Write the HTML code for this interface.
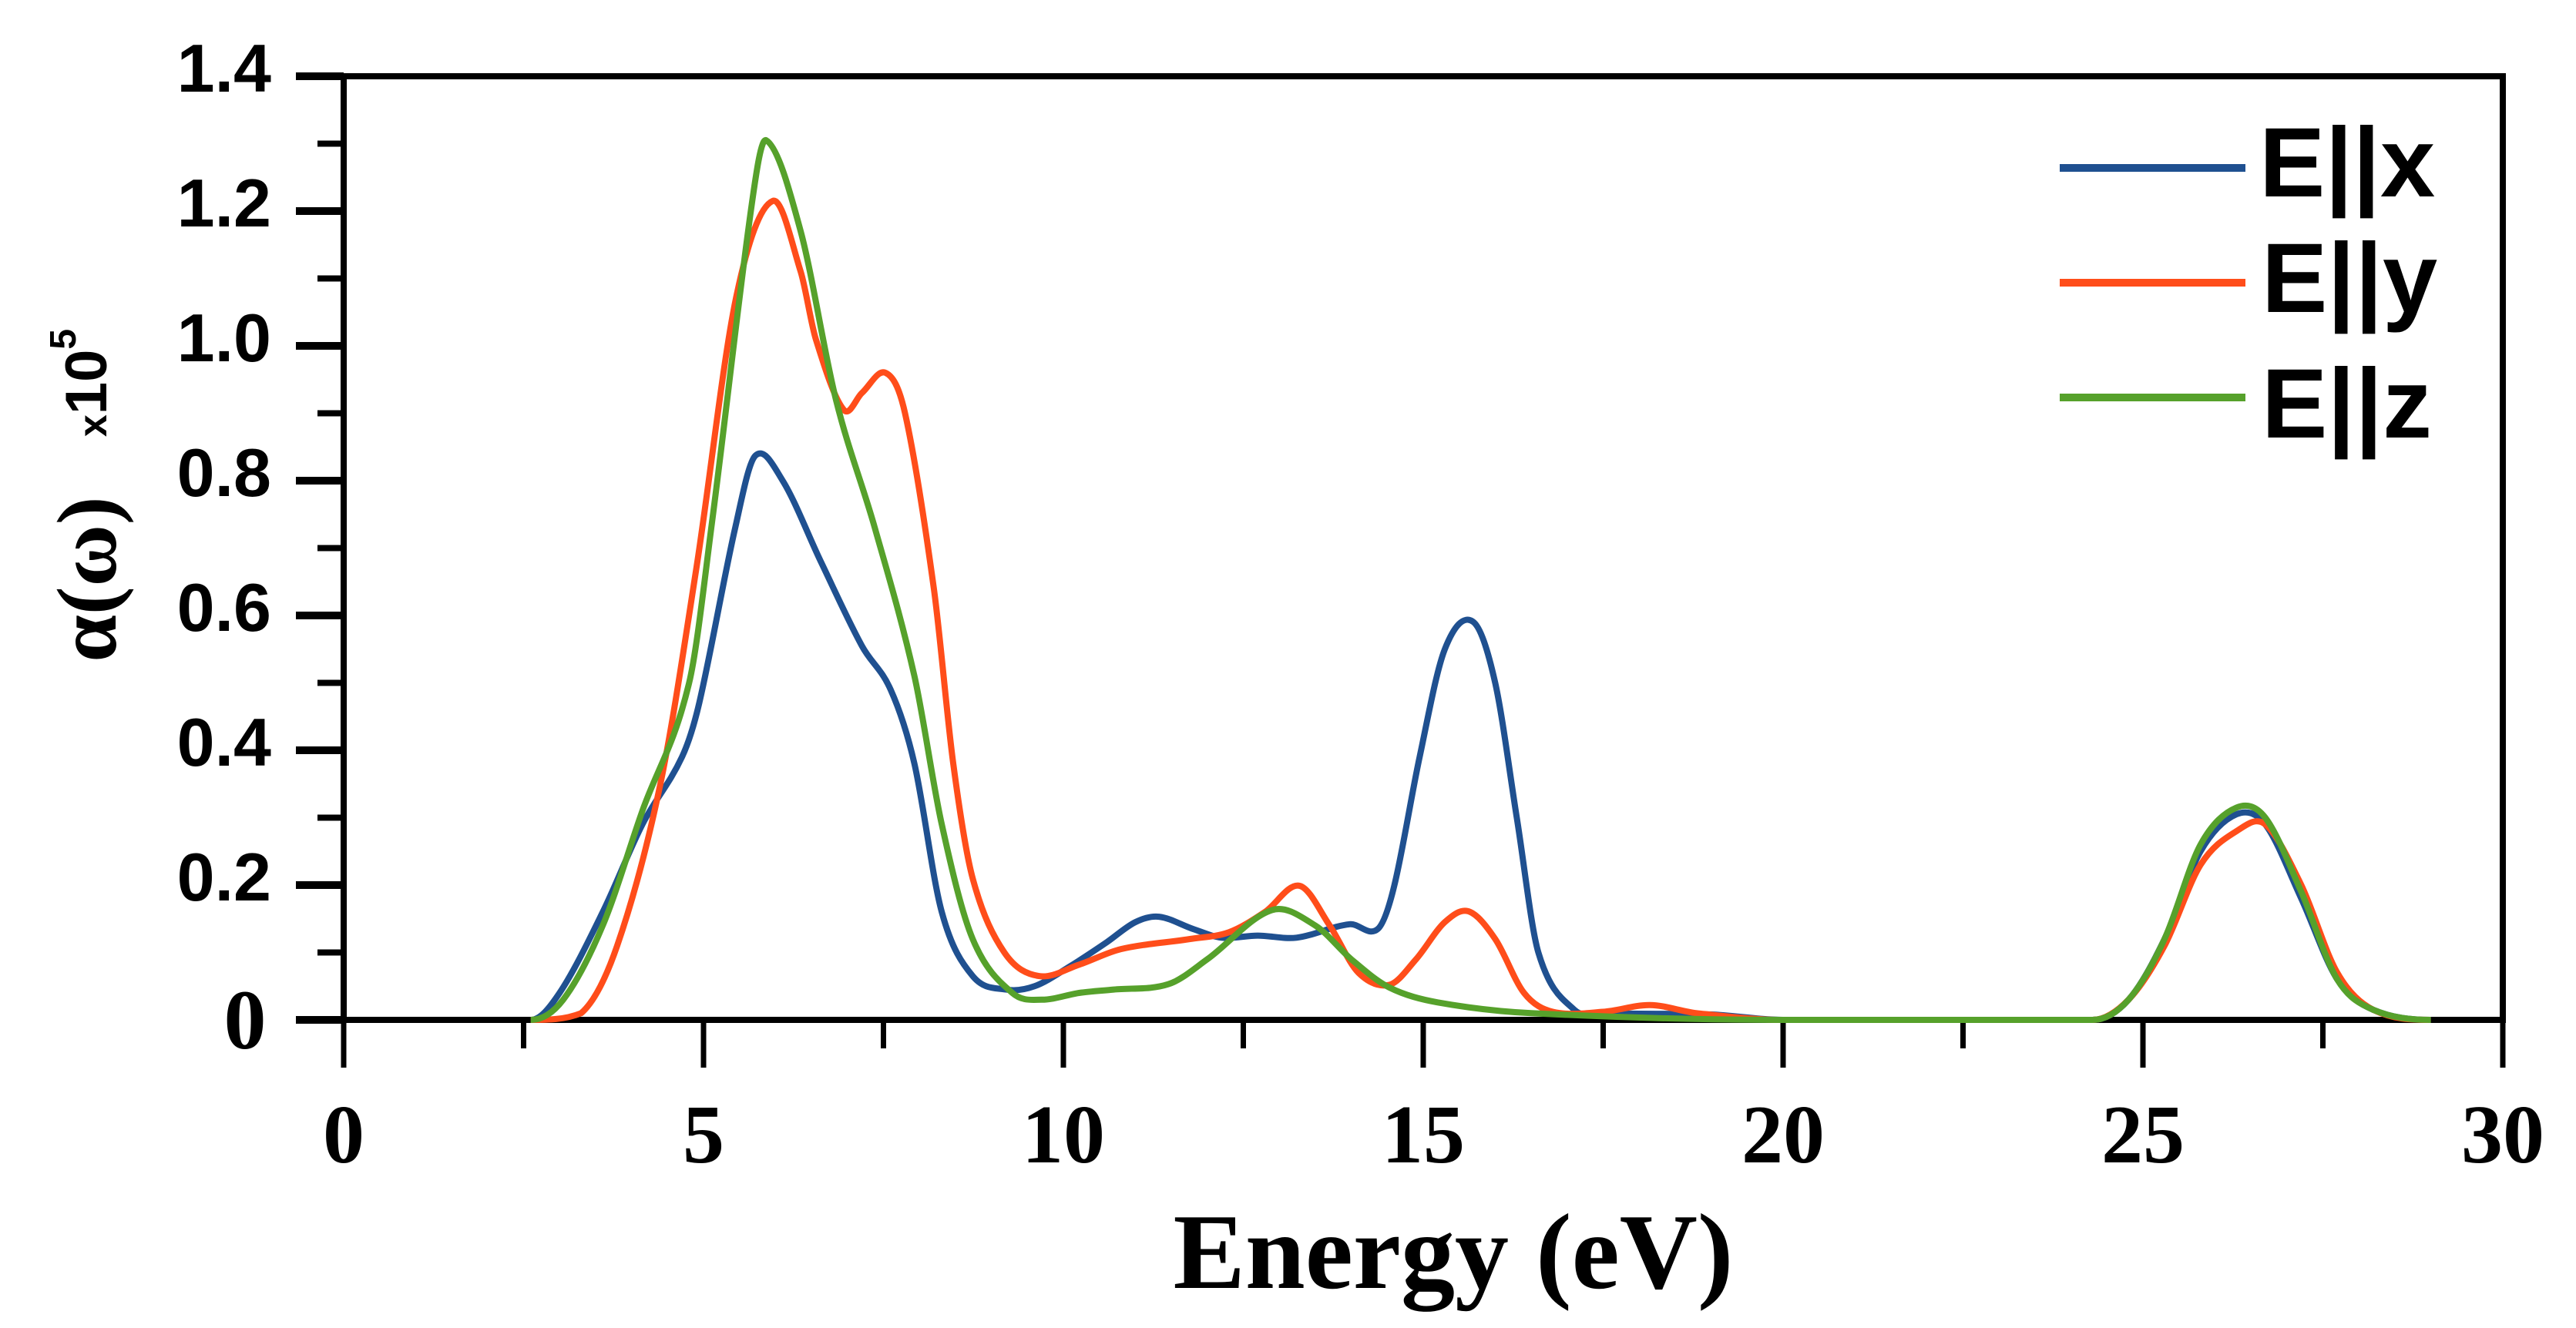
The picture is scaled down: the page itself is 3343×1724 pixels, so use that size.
<!DOCTYPE html>
<html><head><meta charset="utf-8"><style>
html,body{margin:0;padding:0;background:#fff;}
svg{display:block;}
</style></head><body>
<svg id="chart" width="3343" height="1724" viewBox="0 0 3343 1724" xmlns="http://www.w3.org/2000/svg">
<g id="axes"></g>
<g id="series"></g>
<g id="legend">
  <line x1="2673" y1="218" x2="2914" y2="218" stroke="#1f5090" stroke-width="10"/>
  <text x="2932" y="255" font-family="Liberation Sans, sans-serif" font-weight="bold" font-size="128">E||x</text>
  <line x1="2673" y1="367" x2="2914" y2="367" stroke="#ff4d1a" stroke-width="10"/>
  <text x="2935" y="405" font-family="Liberation Sans, sans-serif" font-weight="bold" font-size="128">E||y</text>
  <line x1="2673" y1="516" x2="2914" y2="516" stroke="#56a12b" stroke-width="10"/>
  <text x="2935" y="568" font-family="Liberation Sans, sans-serif" font-weight="bold" font-size="128">E||z</text>
</g>
<text x="1886" y="1672" text-anchor="middle" font-family="Liberation Serif, serif" font-weight="bold" font-size="140">Energy (eV)</text>
<g transform="translate(150,752) rotate(-90)">
  <text x="0" y="0" text-anchor="middle" font-family="Liberation Serif, serif" font-weight="bold" font-size="110">α(ω)</text>
  <text x="255" y="-12" text-anchor="middle" font-family="Liberation Sans, sans-serif" font-weight="bold" font-size="76"><tspan font-size="52">x</tspan>10<tspan dy="-40" font-size="48">5</tspan></text>
</g>
</svg>
<script>
const xTicks = [0,5,10,15,20,25,30];
const yTicks = [0,0.2,0.4,0.6,0.8,1.0,1.2,1.4];
const yTickLabels = ["0","0.2","0.4","0.6","0.8","1.0","1.2","1.4"];
const seriesNames = ["E||x","E||y","E||z"];

const blueE = [2.6,3.0,3.6,4.15,4.7,4.94,5.44,5.72,6.1,6.63,7.2,7.6,7.93,8.31,8.74,9.2,9.6,10.1,10.6,11.0,11.33,11.8,12.2,12.7,13.24,13.98,14.37,14.6,14.95,15.3,15.69,16.0,16.3,16.6,17.1,17.5,19.0,20.0,24.3,24.8,25.3,25.8,26.3,26.7,27.2,27.7,28.2,29.0];
const blueV = [0,0.04,0.16,0.29,0.39,0.47,0.73,0.837,0.8,0.68,0.555,0.49,0.38,0.16,0.065,0.045,0.05,0.08,0.115,0.145,0.153,0.135,0.122,0.125,0.122,0.142,0.135,0.2,0.39,0.55,0.591,0.5,0.3,0.1,0.015,0.01,0.008,0,0,0.03,0.12,0.25,0.305,0.29,0.18,0.06,0.015,0];

const redE = [2.6,3.3,3.8,4.4,4.9,5.45,5.96,6.35,6.56,6.95,7.2,7.53,7.8,8.2,8.47,8.74,9.18,9.66,10.22,10.8,11.76,12.3,12.8,13.28,13.7,14.1,14.53,14.9,15.3,15.63,16.0,16.4,16.8,17.5,18.15,18.8,20.0,24.3,24.8,25.3,25.8,26.3,26.7,27.2,27.7,28.2,29.0];
const redV = [0,0.01,0.11,0.35,0.67,1.07,1.215,1.11,1.01,0.905,0.93,0.96,0.9,0.64,0.38,0.21,0.1,0.065,0.082,0.105,0.12,0.13,0.16,0.199,0.14,0.07,0.052,0.09,0.145,0.161,0.12,0.04,0.012,0.012,0.022,0.01,0,0,0.03,0.11,0.23,0.28,0.29,0.2,0.07,0.015,0];

const greenE = [2.6,3.05,3.6,4.15,4.8,5.12,5.67,5.87,6.35,6.84,7.38,7.93,8.31,8.74,9.29,9.7,10.22,10.7,11.46,12.0,12.9,13.5,14.0,14.53,15.2,16.5,20.0,24.3,24.8,25.3,25.8,26.3,26.7,27.2,27.7,28.2,29.0];
const greenV = [0,0.03,0.14,0.31,0.5,0.74,1.21,1.305,1.17,0.92,0.73,0.51,0.29,0.12,0.04,0.03,0.04,0.045,0.053,0.09,0.163,0.14,0.09,0.048,0.026,0.01,0,0,0.03,0.12,0.26,0.315,0.3,0.19,0.06,0.015,0];

const X0=446, X1=3248, Y0=1324, Y1=99;
function xs(e){return X0+(e-0)/(30-0)*(X1-X0);}
function ys(v){return Y0-(v-0)/(1.4-0)*(Y0-Y1);}
const NS="http://www.w3.org/2000/svg";
function mk(tag, attrs, parent){const el=document.createElementNS(NS,tag);for(const k in attrs)el.setAttribute(k,attrs[k]);parent.appendChild(el);return el;}

const axes=document.getElementById('axes');
let fr=mk('rect',{x:X0,y:Y1,width:X1-X0,height:Y0-Y1,fill:'none',stroke:'#000','stroke-width':8},axes);


for(let i=0;i<=12;i++){
  const e=i*2.5; const major=(i%2===0);
  const t=mk('line',{x1:xs(e),x2:xs(e),y1:Y0,y2:Y0+(major?62:37),stroke:'#000','stroke-width':7},axes);
  
  
}
xTicks.forEach(function(e){
  const t=mk('text',{x:xs(e),y:1509,'text-anchor':'middle','font-family':'Liberation Serif, serif','font-weight':'bold','font-size':108},axes);
  t.textContent=String(e);
  
  
});
for(let i=0;i<=14;i++){
  const v=i*0.1; const major=(i%2===0);
  const t=mk('line',{x1:X0-(major?62:34),x2:X0,y1:ys(v),y2:ys(v),stroke:'#000','stroke-width':major?10:8},axes);
  
  
}
yTicks.forEach(function(v,i){
  let t;
  if(i===0){
    t=mk('text',{x:318,y:ys(v)+37,'text-anchor':'middle','font-family':'Liberation Serif, serif','font-weight':'bold','font-size':110},axes);
  } else {
    t=mk('text',{x:352,y:ys(v)+20,'text-anchor':'end','font-family':'Liberation Sans, sans-serif','font-weight':'bold','font-size':88},axes);
  }
  t.textContent=yTickLabels[i];
  
  
});

function pathFor(E,V){
  const n=E.length, px=E.map(xs), py=V.map(ys);
  const m=new Array(n);
  for(let i=0;i<n;i++){
    if(V[i]===0){m[i]=0;continue;}
    const a=Math.max(0,i-1), b=Math.min(n-1,i+1);
    m[i]=(py[b]-py[a])/(px[b]-px[a]);
  }
  let s='M'+px[0].toFixed(1)+','+py[0].toFixed(1);
  for(let i=0;i<n-1;i++){
    const h=(px[i+1]-px[i])/3;
    let c1=py[i]+m[i]*h, c2=py[i+1]-m[i+1]*h;
    c1=Math.min(c1,Y0); c2=Math.min(c2,Y0);
    s+=' C'+(px[i]+h).toFixed(1)+','+c1.toFixed(1)+' '+(px[i+1]-h).toFixed(1)+','+c2.toFixed(1)+' '+px[i+1].toFixed(1)+','+py[i+1].toFixed(1);
  }
  return s;
}
const sg=document.getElementById('series');
const pb=mk('path',{d:pathFor(blueE,blueV),fill:'none',stroke:'#1f5090','stroke-width':8,'stroke-linejoin':'round'},sg);


const pr=mk('path',{d:pathFor(redE,redV),fill:'none',stroke:'#ff4d1a','stroke-width':8,'stroke-linejoin':'round'},sg);


const pg=mk('path',{d:pathFor(greenE,greenV),fill:'none',stroke:'#56a12b','stroke-width':8,'stroke-linejoin':'round'},sg);


</script>
</body></html>
